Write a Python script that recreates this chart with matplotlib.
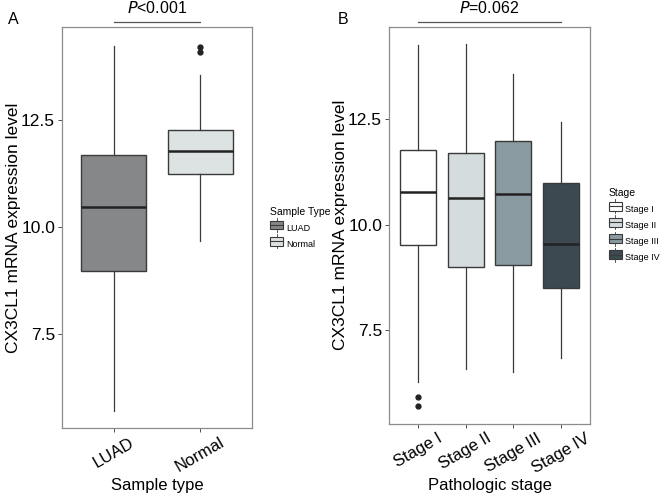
import numpy as np
import matplotlib
matplotlib.use("Agg")
import matplotlib.pyplot as plt
from matplotlib.legend_handler import HandlerBase
from matplotlib.patches import Rectangle
from matplotlib.lines import Line2D

plt.rcParams['font.family'] = ['Liberation Sans', 'DejaVu Sans']

# === Data ===
# Panel A: sample type
groups_a = ['LUAD', 'Normal']
whislo_a = [5.71, 9.67]
q1_a = [8.98, 11.23]
med_a = [10.47, 11.78]
q3_a = [11.68, 12.27]
whishi_a = [14.23, 13.55]
fliers_a = [[], [14.21, 14.08]]
colors_a = ['#868788', '#dde2e3']

# Panel B: pathologic stage
groups_b = ['Stage I', 'Stage II', 'Stage III', 'Stage IV']
whislo_b = [6.28, 6.59, 6.51, 6.86]
q1_b = [9.52, 9.00, 9.05, 8.49]
med_b = [10.77, 10.63, 10.71, 9.53]
q3_b = [11.77, 11.69, 11.98, 10.99]
whishi_b = [14.23, 14.27, 13.55, 12.42]
fliers_b = [[5.93, 5.71], [], [], []]
colors_b = ['#ffffff', '#d5dcde', '#8a9aa1', '#3c4950']

yticks = [7.5, 10.0, 12.5]
ylabel = 'CX3CL1 mRNA expression level'

edge = '#3a3a3a'
spine_col = '#8c8c8c'


class BoxKey(HandlerBase):
    # small boxplot glyph like the ggplot legend key
    def create_artists(self, legend, orig_handle, xd, yd, w, h, fontsize, trans):
        face = orig_handle.get_facecolor()
        cx = xd + w / 2
        v = Line2D([cx, cx], [yd - 0.3 * h, yd + 1.3 * h], color=edge, lw=0.6, transform=trans)
        r = Rectangle((xd, yd), w, h, facecolor=face, edgecolor=edge, lw=0.8, transform=trans)
        m = Line2D([xd, xd + w], [yd + h / 2, yd + h / 2], color=edge, lw=0.8, transform=trans)
        return [v, r, m]


def draw_panel(ax, names, lo, q1, med, q3, hi, fl, cols):
    stats = []
    for i in range(len(names)):
        stats.append({'whislo': lo[i], 'q1': q1[i], 'med': med[i], 'q3': q3[i],
                      'whishi': hi[i], 'fliers': fl[i], 'label': names[i]})
    pos = np.arange(1, len(names) + 1)
    bp = ax.bxp(stats, positions=pos, widths=0.75, patch_artist=True, showcaps=False,
                boxprops=dict(edgecolor=edge, linewidth=1.0),
                medianprops=dict(color='#222222', linewidth=1.8),
                whiskerprops=dict(color=edge, linewidth=0.9),
                flierprops=dict(marker='o', markerfacecolor='#222222', markeredgecolor='#222222',
                                markersize=3.5))
    for patch, c in zip(bp['boxes'], cols):
        patch.set_facecolor(c)
    ax.set_xlim(0.4, len(names) + 0.6)
    ax.set_ylim(5.3, 14.67)
    ax.set_yticks(yticks)
    ax.set_yticklabels(['%.1f' % t for t in yticks], fontsize=12.5)
    ax.set_xticks(pos)
    ax.set_xticklabels(names, rotation=30, fontsize=12)
    ax.tick_params(axis='both', color='#333333', length=3, width=0.6, pad=2)
    for s in ax.spines.values():
        s.set_color(spine_col)
        s.set_linewidth(0.9)
    ax.set_ylabel(ylabel, fontsize=12.5, labelpad=0)
    handles = [Rectangle((0, 0), 1, 1, facecolor=c) for c in cols]
    return handles


fig = plt.figure(figsize=(6.69, 4.96), dpi=100)
ax1 = fig.add_axes([0.0927, 0.137, 0.284, 0.8085])
ax2 = fig.add_axes([0.5815, 0.146, 0.3004, 0.80])

h1 = draw_panel(ax1, groups_a, whislo_a, q1_a, med_a, q3_a, whishi_a, fliers_a, colors_a)
ax1.set_xlabel('Sample type', fontsize=12, labelpad=2)
h2 = draw_panel(ax2, groups_b, whislo_b, q1_b, med_b, q3_b, whishi_b, fliers_b, colors_b)
ax2.set_xlabel('Pathologic stage', fontsize=12, labelpad=2)

hmap = {h: BoxKey() for h in h1 + h2}
leg1 = fig.legend(h1, groups_a, title='Sample Type', loc='upper left',
                  bbox_to_anchor=(0.392, 0.60), frameon=False, fontsize=6.5,
                  title_fontsize=7.5, handler_map=hmap, handlelength=1.4, handleheight=1.1,
                  labelspacing=0.75, alignment='left', handletextpad=0.4)
leg2 = fig.legend(h2, groups_b, title='Stage', loc='upper left',
                  bbox_to_anchor=(0.898, 0.638), frameon=False, fontsize=6.5,
                  title_fontsize=7.5, handler_map=hmap, handlelength=1.4, handleheight=1.1,
                  labelspacing=0.75, alignment='left', handletextpad=0.4)

# significance bars
for ax, x0, x1, lab in [(ax1, 1, 2, '<0.001'), (ax2, 1, 4, '=0.062')]:
    ax.plot([x0, x1], [14.79, 14.79], color='#555555', lw=0.9, clip_on=False)
    ax.text((x0 + x1) / 2, 14.93, '$\\it{P}$' + lab, ha='center', va='bottom', fontsize=11.5)

fig.text(0.012, 0.975, 'A', fontsize=11.5, va='top')
fig.text(0.505, 0.975, 'B', fontsize=11.5, va='top')

fig.savefig('out.png', dpi=100)
